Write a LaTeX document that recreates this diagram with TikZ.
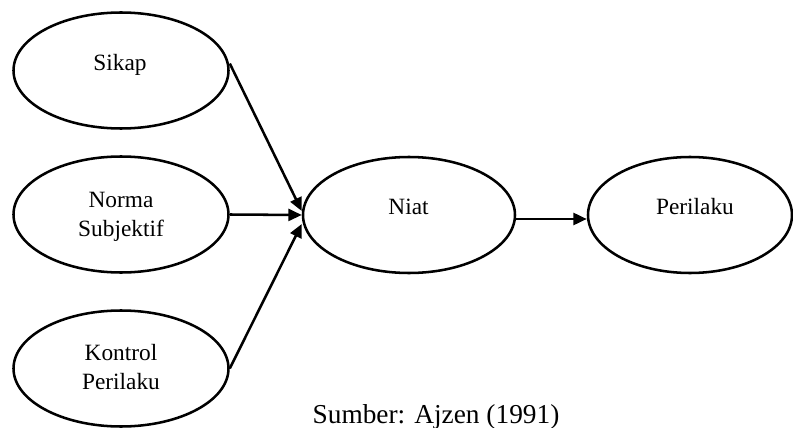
\documentclass[tikz,border=0pt]{standalone}
\usepackage{fontspec}
\setmainfont{Liberation Serif}
\usetikzlibrary{shapes.geometric,arrows.meta,calc}
\begin{document}
\begin{tikzpicture}[x=0.75pt,y=-0.75pt,
  oval/.style={draw, ellipse, line width=1.9pt, minimum width=161.25pt, minimum height=87pt, inner sep=0pt},
  lbl/.style={anchor=base, font=\fontsize{17.5}{21.75}\selectfont, align=center, inner sep=0pt},
  conn/.style={line width=1.9pt, -{Triangle[length=10pt,width=9pt]}}]
\useasboundingbox (0,0) rectangle (793,428);
\node[oval] (sikap) at (121,70.5) {};
\node[oval] (norma) at (121,214.5) {};
\node[oval] (kontrol) at (121,368.5) {};
\node[oval, minimum width=159pt] (niat) at (409,215) {};
\node[oval, minimum width=153pt] (perilaku) at (690,215) {};
\node[lbl] (sikapt) at (120,70.5) {Sikap};
\node[lbl] (normat) at (121,236) {Norma\\Subjektif};
\node[lbl] (kontrolt) at (121,389) {Kontrol\\Perilaku};
\node[lbl] (niatt) at (408.5,214) {Niat};
\node[lbl] (perilakut) at (695,214) {Perilaku};
\node[anchor=base, font=\fontsize{20.5}{24}\selectfont, inner sep=0pt] (src) at (436,423) {Sumber: Ajzen (1991)};
\draw[conn] ($(sikap.east)+(0,-7)$) -- ($(niat.west)+(0,-4)$);
\draw[conn] (norma.east) -- (niat.west);
\draw[conn] (kontrol.east) -- ($(niat.west)+(0,9)$);
\draw[conn] ($(niat.east)+(0,4)$) -- ($(perilaku.west)+(0,4)$);
\end{tikzpicture}
\end{document}
